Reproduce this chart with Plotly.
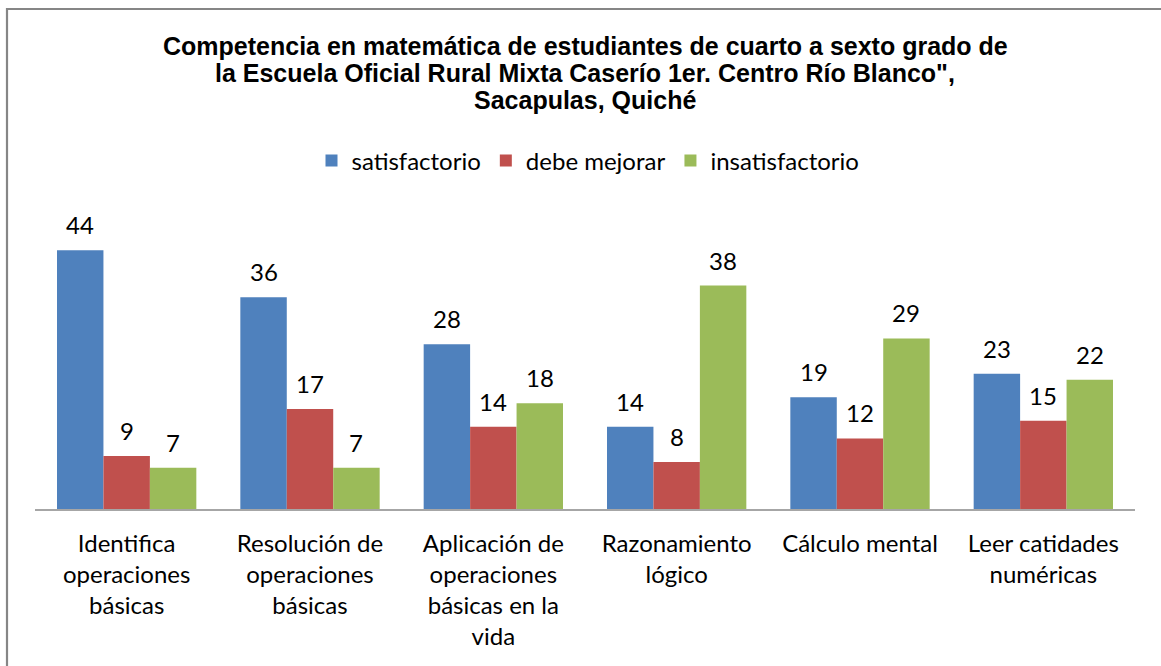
import plotly.graph_objects as go

categories = [
    "Identifica<br>operaciones<br>básicas",
    "Resolución de<br>operaciones<br>básicas",
    "Aplicación de<br>operaciones<br>básicas en la<br>vida",
    "Razonamiento<br>lógico",
    "Cálculo mental",
    "Leer catidades<br>numéricas",
]
series_names = ["satisfactorio", "debe mejorar", "insatisfactorio"]
satisfactorio = [44, 36, 28, 14, 19, 23]
debe_mejorar = [9, 17, 14, 8, 12, 15]
insatisfactorio = [7, 7, 18, 38, 29, 22]
title_lines = [
    "Competencia en matemática de estudiantes de cuarto a sexto grado de",
    "la Escuela Oficial Rural Mixta Caserío 1er. Centro Río Blanco\",",
    "Sacapulas, Quiché",
]
colors = ["#4F81BD", "#C0504D", "#9BBB59"]

W, H = 1161, 666
ml, mr, mt, mb = 35, 26, 215, 157
pw, ph = W - ml - mr, H - mt - mb
bargap = 0.24

def px_x(p):
    return (p - ml) / pw

def px_y(p):
    return (H - mb - p) / ph

fig = go.Figure()
all_vals = [satisfactorio, debe_mejorar, insatisfactorio]
for name, vals, col in zip(series_names, all_vals, colors):
    fig.add_trace(go.Bar(
        x=categories, y=vals, name=name,
        marker=dict(color=col, line=dict(width=0)),
        cliponaxis=False,
    ))

# value labels above bars
cat_w = pw / len(categories)
bar_w = cat_w * (1 - bargap) / len(series_names)
for i, vals in enumerate(all_vals):
    for cat, v in zip(categories, vals):
        fig.add_annotation(
            x=cat, y=v, xref="x", yref="y", text=str(v), showarrow=False,
            xshift=(i - 1) * bar_w, yshift=9, yanchor="bottom",
            font=dict(family="Lato", size=24, color="#000000"),
        )

# title lines
for k, (line, yc) in enumerate(zip(title_lines, [46, 73, 100])):
    fig.add_annotation(
        x=px_x(585), y=px_y(yc), xref="paper", yref="paper", text=line,
        showarrow=False, xanchor="center", yanchor="middle",
        font=dict(family="Liberation Sans", size=25, color="#000000", weight="bold"),
    )

# chart border
fig.add_shape(type="rect", xref="paper", yref="paper",
              x0=px_x(7), x1=px_x(1175), y0=px_y(680), y1=px_y(9),
              line=dict(color="#868686", width=2.2), fillcolor="rgba(0,0,0,0)", layer="above")

fig.update_layout(
    width=W, height=H,
    margin=dict(l=ml, r=mr, t=mt, b=mb, pad=0),
    paper_bgcolor="white", plot_bgcolor="white",
    barmode="group", bargap=bargap, bargroupgap=0,
    showlegend=True,
    legend=dict(orientation="h", x=px_x(588), xanchor="center", y=px_y(161), yanchor="middle",
                font=dict(family="Lato", size=24, color="#000000"),
                traceorder="normal", itemwidth=30),
    xaxis=dict(showline=True, linecolor="#A6A6A6", linewidth=1.5, ticks="",
               tickfont=dict(family="Lato", size=24, color="#000000"), showgrid=False,
               ticklabelstandoff=12),
    yaxis=dict(range=[0, 50], visible=False, showgrid=False, zeroline=False),
    font=dict(family="Lato"),
)

fig.write_html("out.html", config={"displayModeBar": False},
               post_script="document.body.style.margin='0';document.body.style.overflow='hidden';")
